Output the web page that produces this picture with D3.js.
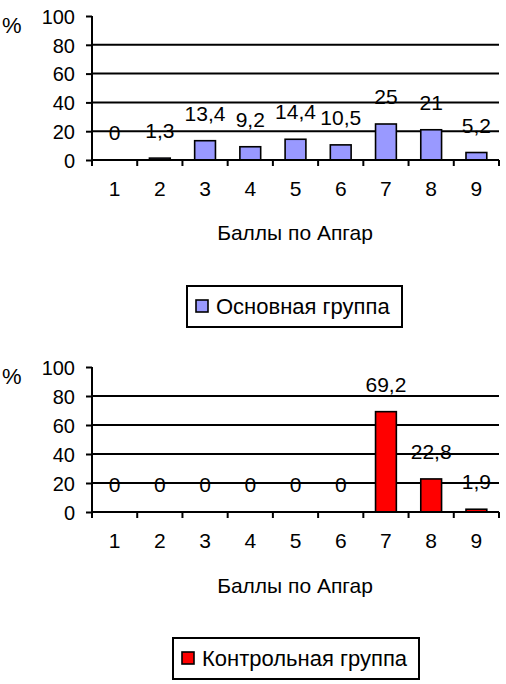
<!DOCTYPE html>
<html lang="ru">
<head>
    <meta charset="UTF-8">
    <title>Баллы по Апгар</title>
    <script src="https://cdnjs.cloudflare.com/ajax/libs/d3/7.8.5/d3.min.js"></script>
    <style>
        body { margin: 0; background: #fff; }
        text { font-family: "Liberation Sans", Arial, sans-serif; fill: #000; }
    </style>
</head>
<body>
    <script>
        // data
        var categories = ["1", "2", "3", "4", "5", "6", "7", "8", "9"];
        var mainValues = [0, 1.3, 13.4, 9.2, 14.4, 10.5, 25, 21, 5.2];
        var controlValues = [0, 0, 0, 0, 0, 0, 69.2, 22.8, 1.9];
        var yTicks = [0, 20, 40, 60, 80, 100];
        var axisTitle = "Баллы по Апгар";
        var mainName = "Основная группа";
        var controlName = "Контрольная группа";

        var svg = d3.select("body")
            .append("svg")
            .attr("width", 506)
            .attr("height", 684);

        // one chart panel: bars, grid, axes, labels, legend
        function drawPanel(cfg) {
            var g = svg.append("g");
            var rows = categories.map(function(c, i){ return { cat: c, value: cfg.values[i] }; });
            var x = d3.scaleBand()
                .domain(categories)
                .range([92, 499])
                .paddingInner(0.54)
                .paddingOuter(0.27);
            var y = d3.scaleLinear().domain([0, 100]).range([cfg.bottom, cfg.top]);
            var slot = x.step();
            var shift = (slot - x.bandwidth()) / 2;

            // grid lines
            g.selectAll(".grid")
                .data(yTicks.filter(function(t){ return t > 0 && t < 100; }))
                .enter().append("line")
                .attr("x1", 92).attr("x2", 499)
                .attr("y1", function(d){ return y(d); })
                .attr("y2", function(d){ return y(d); })
                .attr("stroke", "#000").attr("stroke-width", 2);

            // bars (zero values leave no mark)
            g.selectAll(".bar")
                .data(rows.filter(function(d){ return d.value > 0; }))
                .enter().append("rect")
                .attr("x", function(d){ return x(d.cat); })
                .attr("width", x.bandwidth())
                .attr("y", function(d){ return y(d.value); })
                .attr("height", function(d){ return y(0) - y(d.value); })
                .attr("fill", cfg.color)
                .attr("stroke", "#000").attr("stroke-width", 1.6);

            // y axis
            var yAxis = d3.axisLeft(y).tickValues(yTicks).tickSize(6).tickPadding(11);
            var ya = g.append("g").attr("transform", "translate(92,0)").call(yAxis);
            ya.select(".domain").attr("stroke-width", 2).attr("d", "M0," + y(0) + "V" + y(100));
            ya.selectAll(".tick line").attr("stroke-width", 2);
            ya.selectAll("text").style("font-size", "20px").attr("dy", "0.36em");

            // x axis: line plus ticks at slot boundaries
            g.append("line")
                .attr("x1", 92).attr("x2", 499)
                .attr("y1", y(0)).attr("y2", y(0))
                .attr("stroke", "#000").attr("stroke-width", 2);
            var bounds = categories.map(function(c){ return x(c) - shift; }).concat([x(categories[8]) - shift + slot]);
            g.selectAll(".xt")
                .data(bounds)
                .enter().append("line")
                .attr("x1", function(d){ return d; }).attr("x2", function(d){ return d; })
                .attr("y1", y(0)).attr("y2", y(0) + 6)
                .attr("stroke", "#000").attr("stroke-width", 2);
            g.selectAll(".xl")
                .data(categories)
                .enter().append("text")
                .attr("x", function(d){ return x(d) + x.bandwidth() / 2; })
                .attr("y", y(0) + 36)
                .attr("text-anchor", "middle")
                .style("font-size", "21px")
                .text(function(d){ return d; });

            // value labels
            g.selectAll(".vl")
                .data(rows)
                .enter().append("text")
                .attr("x", function(d){ return x(d.cat) + x.bandwidth() / 2; })
                .attr("y", function(d){ return y(d.value) - 20; })
                .attr("text-anchor", "middle")
                .style("font-size", "21px")
                .text(function(d){ return String(d.value).replace(".", ","); });

            // "%" unit
            g.append("text")
                .attr("x", 2).attr("y", y(100) + 17)
                .style("font-size", "22px")
                .text("%");

            // axis title
            g.append("text")
                .attr("x", 295).attr("y", cfg.titleY)
                .attr("text-anchor", "middle")
                .style("font-size", "21px")
                .text(axisTitle);

            // legend
            var lg = g.append("g");
            lg.append("rect")
                .attr("x", cfg.legend[0]).attr("y", cfg.legend[1])
                .attr("width", cfg.legend[2]).attr("height", 41)
                .attr("fill", "#fff").attr("stroke", "#000").attr("stroke-width", 2);
            lg.append("rect")
                .attr("x", cfg.legend[0] + 9).attr("y", cfg.legend[1] + 14)
                .attr("width", 12).attr("height", 12)
                .attr("fill", cfg.color).attr("stroke", "#000").attr("stroke-width", 1.6);
            lg.append("text")
                .attr("x", cfg.legend[0] + 29).attr("y", cfg.legend[1] + 28)
                .style("font-size", "22px")
                .text(cfg.name);
        }

        drawPanel({ values: mainValues, color: "#9999ff", name: mainName,
            top: 16, bottom: 160, titleY: 240, legend: [187, 286, 215] });
        drawPanel({ values: controlValues, color: "#ff0000", name: controlName,
            top: 367, bottom: 512, titleY: 593, legend: [173, 638, 246] });
    </script>
</body>
</html>
